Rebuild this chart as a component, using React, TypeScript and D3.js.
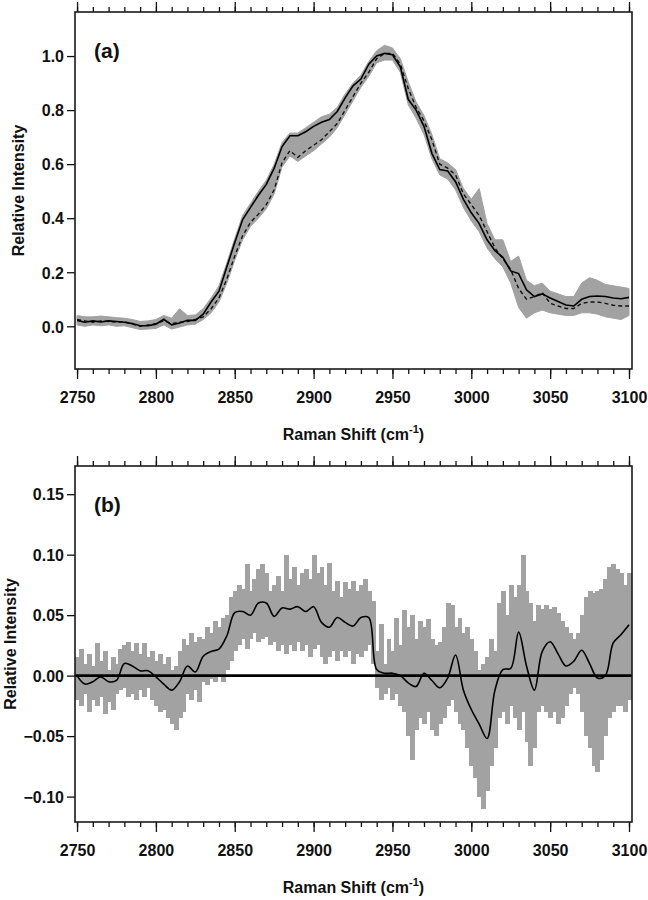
import React, { useEffect, useRef } from "react";
import * as d3 from "d3";

// Raman shift grids (cm-1)
const shiftA = d3.range(2750, 3100.01, 5);
const shiftB = d3.range(2750, 3100.01, 2.5);

// panel (a): solid trace, dashed trace, gray data envelope (lo / hi)
const solidA = [
  0.022, 0.015, 0.020, 0.016, 0.020, 0.018, 0.015, 0.010, 0.002, 0.002,
  0.008, 0.026, 0.005, 0.012, 0.022, 0.022, 0.045, 0.090, 0.130, 0.220,
  0.310, 0.395, 0.440, 0.485, 0.525, 0.585, 0.665, 0.705, 0.705, 0.720,
  0.740, 0.755, 0.765, 0.795, 0.845, 0.890, 0.915, 0.970, 1.000, 1.010,
  1.005, 0.960, 0.840, 0.800, 0.740, 0.640, 0.580, 0.575, 0.535, 0.470,
  0.420, 0.380, 0.320, 0.280, 0.255, 0.205, 0.195, 0.135, 0.110, 0.120,
  0.105, 0.092, 0.079, 0.075, 0.100, 0.110, 0.112, 0.110, 0.105, 0.102,
  0.107,
];
const dashA = [
  0.025, 0.020, 0.015, 0.020, 0.018, 0.015, 0.018, 0.008, 0.000, 0.005,
  0.010, 0.020, 0.010, 0.015, 0.018, 0.025, 0.035, 0.065, 0.105, 0.175,
  0.260, 0.335, 0.385, 0.415, 0.450, 0.505, 0.605, 0.650, 0.625, 0.650,
  0.670, 0.690, 0.720, 0.750, 0.800, 0.850, 0.900, 0.940, 0.990, 1.010,
  1.010, 0.970, 0.880, 0.810, 0.760, 0.690, 0.600, 0.585, 0.560, 0.490,
  0.450, 0.410, 0.350, 0.290, 0.250, 0.210, 0.140, 0.100, 0.110, 0.125,
  0.085, 0.075, 0.066, 0.066, 0.085, 0.090, 0.090, 0.085, 0.078, 0.075,
  0.075,
];
const hiA = [
  0.040, 0.035, 0.035, 0.038, 0.035, 0.032, 0.030, 0.025, 0.018, 0.020,
  0.025, 0.040, 0.030, 0.065, 0.040, 0.042, 0.065, 0.105, 0.150, 0.235,
  0.325, 0.410, 0.455, 0.500, 0.540, 0.600, 0.680, 0.715, 0.715, 0.735,
  0.755, 0.775, 0.785, 0.810, 0.860, 0.900, 0.930, 0.980, 1.020, 1.040,
  1.030, 0.990, 0.905, 0.830, 0.780, 0.710, 0.620, 0.605, 0.580, 0.510,
  0.470, 0.510, 0.380, 0.320, 0.320, 0.240, 0.260, 0.170, 0.150, 0.160,
  0.130, 0.120, 0.110, 0.110, 0.160, 0.180, 0.170, 0.155, 0.150, 0.145,
  0.140,
];
const loA = [
  0.005, 0.000, 0.005, 0.002, 0.005, 0.000, 0.002, -0.005, -0.012, -0.010,
  -0.008, 0.005, -0.010, -0.003, 0.005, 0.008, 0.025, 0.050, 0.090, 0.160,
  0.245, 0.320, 0.370, 0.400, 0.435, 0.490, 0.590, 0.630, 0.610, 0.630,
  0.650, 0.675, 0.700, 0.735, 0.785, 0.835, 0.885, 0.925, 0.975, 0.985,
  0.985, 0.940, 0.820, 0.770, 0.710, 0.620, 0.560, 0.545, 0.505, 0.440,
  0.390, 0.350, 0.290, 0.250, 0.220, 0.160, 0.070, 0.030, 0.050, 0.060,
  0.050, 0.045, 0.040, 0.040, 0.050, 0.050, 0.045, 0.035, 0.030, 0.025,
  0.040,
];

// panel (b): residual envelope (hi / lo) and smoothed residual
const hiB = [
  0.015, 0.022, 0.010, 0.018, 0.008, 0.027, 0.012, 0.020, 0.005, 0.015,
  0.010, 0.022, 0.025, 0.028, 0.020, 0.027, 0.018, 0.027, 0.015, 0.020,
  0.012, 0.018, 0.010, 0.015, 0.005, 0.008, 0.020, 0.030, 0.025, 0.035,
  0.028, 0.032, 0.030, 0.040, 0.035, 0.045, 0.040, 0.048, 0.050, 0.065,
  0.070, 0.075, 0.072, 0.092, 0.070, 0.080, 0.088, 0.092, 0.085, 0.070,
  0.075, 0.082, 0.070, 0.100, 0.080, 0.090, 0.075, 0.085, 0.088, 0.080,
  0.100, 0.085, 0.090, 0.075, 0.093, 0.070, 0.078, 0.065, 0.077, 0.072,
  0.078, 0.070, 0.075, 0.080, 0.070, 0.062, 0.020, 0.043, 0.010, 0.030,
  0.020, 0.048, 0.025, 0.054, 0.040, 0.050, 0.030, 0.045, 0.040, 0.047,
  0.030, 0.025, 0.028, 0.040, 0.060, 0.058, 0.040, 0.048, 0.035, 0.040,
  0.030, 0.020, 0.005, 0.010, 0.015, 0.030, 0.020, 0.060, 0.070, 0.050,
  0.075, 0.065, 0.075, 0.100, 0.070, 0.060, 0.045, 0.058, 0.055, 0.058,
  0.055, 0.057, 0.052, 0.045, 0.040, 0.035, 0.030, 0.035, 0.050, 0.065,
  0.070, 0.068, 0.070, 0.072, 0.080, 0.090, 0.092, 0.088, 0.085, 0.075,
  0.085,
];
const loB = [
  -0.020, -0.025, -0.015, -0.030, -0.020, -0.025, -0.018, -0.032, -0.022, -0.028,
  -0.015, -0.012, -0.010, -0.018, -0.015, -0.020, -0.012, -0.018, -0.010, -0.020,
  -0.025, -0.030, -0.028, -0.035, -0.040, -0.045, -0.035, -0.030, -0.015, -0.020,
  -0.012, -0.022, -0.005, -0.008, -0.003, -0.005, 0.000, -0.005, 0.005, 0.012,
  0.020, 0.025, 0.030, 0.022, 0.030, 0.035, 0.028, 0.030, 0.032, 0.025,
  0.028, 0.020, 0.025, 0.018, 0.025, 0.020, 0.028, 0.020, 0.025, 0.015,
  0.022, 0.025, 0.015, 0.010, 0.015, 0.020, 0.012, 0.020, 0.015, 0.020,
  0.010, 0.018, 0.015, 0.020, 0.025, 0.010, -0.010, -0.020, -0.015, -0.010,
  -0.020, -0.015, -0.025, -0.030, -0.050, -0.070, -0.045, -0.035, -0.040, -0.030,
  -0.045, -0.050, -0.040, -0.035, -0.025, -0.020, -0.030, -0.040, -0.045, -0.060,
  -0.075, -0.085, -0.100, -0.110, -0.095, -0.075, -0.060, -0.035, -0.030, -0.040,
  -0.025, -0.035, -0.045, -0.030, -0.055, -0.075, -0.060, -0.030, -0.025, -0.030,
  -0.035, -0.030, -0.040, -0.035, -0.025, -0.015, -0.010, -0.015, -0.030, -0.050,
  -0.060, -0.075, -0.080, -0.070, -0.050, -0.035, -0.030, -0.025, -0.025, -0.030,
  -0.020,
];
const lineB = [
  0.000, -0.007, -0.005, -0.001, -0.005, -0.004, 0.010, 0.008, 0.004, 0.004,
  -0.001, -0.007, -0.012, -0.005, 0.008, 0.003, 0.016, 0.020, 0.022, 0.033,
  0.052, 0.053, 0.050, 0.060, 0.060, 0.049, 0.056, 0.055, 0.057, 0.053,
  0.057, 0.044, 0.040, 0.048, 0.044, 0.041, 0.048, 0.048, 0.005, 0.002,
  0.002, 0.000, -0.006, -0.009, 0.002, -0.004, -0.010, -0.002, 0.017, -0.012,
  -0.028, -0.040, -0.052, -0.012, 0.005, 0.006, 0.036, 0.008, -0.012, 0.020,
  0.028, 0.018, 0.008, 0.012, 0.021, 0.010, -0.002, 0.000, 0.027, 0.034,
  0.042,
];

const xMajor = [2750, 2800, 2850, 2900, 2950, 3000, 3050, 3100];
const xMinor = d3.range(2750, 3100.01, 10);
const yTicksA = [0, 0.2, 0.4, 0.6, 0.8, 1.0];
const yTicksB = [-0.1, -0.05, 0, 0.05, 0.1, 0.15];

const W = 648;
const H = 900;
const FONT = "'Liberation Sans', Arial, Helvetica, sans-serif";
const GRAY = "#a2a2a2";

const App = () => {
  const ref = useRef<SVGSVGElement>(null);

  useEffect(() => {
    const svg = d3.select(ref.current);
    svg.selectAll("*").remove();

    const left = 75,
      right = 632;
    const x = d3.scaleLinear().domain([2748.7, 3101.9]).range([left, right]);

    const drawPanel = (
      top: number,
      bottom: number,
      yDomain: [number, number],
      yTicks: number[],
      fmt: (d: number) => string,
      tag: string,
      titleX: number,
      id: string
    ) => {
      const y = d3.scaleLinear().domain(yDomain).range([bottom, top]);
      const g = svg.append("g");

      g.append("clipPath")
        .attr("id", id)
        .append("rect")
        .attr("x", left)
        .attr("y", top)
        .attr("width", right - left)
        .attr("height", bottom - top);

      const plot = g.append("g").attr("clip-path", `url(#${id})`);

      // axes: top (no labels), bottom (labels), left (labels)
      const axTop = g.append("g").attr("transform", `translate(0,${top})`);
      axTop.append("g").call(d3.axisTop(x).tickValues(xMinor).tickSize(5).tickFormat(() => ""));
      axTop.append("g").call(d3.axisTop(x).tickValues(xMajor).tickSize(10).tickFormat(() => ""));

      const axBot = g.append("g").attr("transform", `translate(0,${bottom})`);
      axBot.append("g").call(d3.axisBottom(x).tickValues(xMinor).tickSize(5).tickFormat(() => ""));
      axBot
        .append("g")
        .call(d3.axisBottom(x).tickValues(xMajor).tickSize(10).tickFormat(d3.format("d")))
        .selectAll("text")
        .attr("y", 34)
        .attr("dy", 0);

      const axLeft = g.append("g").attr("transform", `translate(${left},0)`);
      axLeft
        .call(d3.axisLeft(y).tickValues(yTicks).tickSize(8).tickFormat((d) => fmt(d as number)))
        .selectAll("text")
        .attr("x", -11)
        .attr("dy", "0.36em");

      g.selectAll(".domain").remove();
      g.selectAll(".tick line").attr("stroke", "#111").attr("stroke-width", 1.3);
      g.selectAll(".tick text")
        .attr("fill", "#111")
        .style("font-family", FONT)
        .style("font-weight", "bold")
        .style("font-size", "16px");

      // frame
      g.append("rect")
        .attr("x", left)
        .attr("y", top)
        .attr("width", right - left)
        .attr("height", bottom - top)
        .attr("fill", "none")
        .attr("stroke", "#1a1a1a")
        .attr("stroke-width", 1.6);

      // x title
      const xt = g
        .append("text")
        .attr("x", (left + right) / 2)
        .attr("y", bottom + 71)
        .attr("text-anchor", "middle")
        .style("font-family", FONT)
        .style("font-weight", "bold")
        .style("font-size", "16px")
        .attr("fill", "#111");
      xt.append("tspan").text("Raman Shift (cm");
      xt.append("tspan").attr("dy", -7).style("font-size", "11px").text("-1");
      xt.append("tspan").attr("dy", 7).text(")");

      // y title
      g.append("text")
        .attr("transform", `translate(${titleX},${(top + bottom) / 2}) rotate(-90)`)
        .attr("text-anchor", "middle")
        .style("font-family", FONT)
        .style("font-weight", "bold")
        .style("font-size", "16px")
        .attr("fill", "#111")
        .text("Relative Intensity");

      // panel tag
      g.append("text")
        .attr("x", 94)
        .attr("y", top + 46)
        .style("font-family", FONT)
        .style("font-weight", "bold")
        .style("font-size", "21px")
        .attr("fill", "#111")
        .text(tag);

      return { y, plot, g };
    };

    // ---- panel (a)
    const pa = drawPanel(12, 369, [-0.158, 1.163], yTicksA, d3.format(".1f"), "(a)", 24, "clipA");
    const areaA = d3
      .area<number>()
      .x((_, i) => x(shiftA[i]))
      .y0((_, i) => pa.y(loA[i]))
      .y1((_, i) => pa.y(hiA[i]));
    pa.plot.append("path").datum(hiA).attr("d", areaA).attr("fill", GRAY).attr("stroke", GRAY).attr("stroke-width", 1);

    const lineGen = (yS: d3.ScaleLinear<number, number>, xs: number[]) =>
      d3
        .line<number>()
        .x((_, i) => x(xs[i]))
        .y((d) => yS(d));

    pa.plot
      .append("path")
      .datum(dashA)
      .attr("d", lineGen(pa.y, shiftA))
      .attr("fill", "none")
      .attr("stroke", "#111")
      .attr("stroke-width", 1.4)
      .attr("stroke-dasharray", "4,3");
    pa.plot
      .append("path")
      .datum(solidA)
      .attr("d", lineGen(pa.y, shiftA))
      .attr("fill", "none")
      .attr("stroke", "#000")
      .attr("stroke-width", 1.6);

    // ---- panel (b)
    const pb = drawPanel(466, 822, [-0.121, 0.1733], yTicksB, d3.format(".2f"), "(b)", 16, "clipB");
    const bw = x(2752.5) - x(2750);
    pb.plot
      .append("g")
      .attr("shape-rendering", "crispEdges")
      .selectAll("rect.bar")
      .data(shiftB)
      .enter()
      .append("rect")
      .attr("class", "bar")
      .attr("x", (d) => x(d) - bw / 2)
      .attr("width", bw + 1)
      .attr("y", (_, i) => pb.y(hiB[i]))
      .attr("height", (_, i) => pb.y(loB[i]) - pb.y(hiB[i]))
      .attr("fill", GRAY);

    pb.plot
      .append("line")
      .attr("x1", left)
      .attr("x2", right)
      .attr("y1", pb.y(0))
      .attr("y2", pb.y(0))
      .attr("stroke", "#000")
      .attr("stroke-width", 2.6);

    pb.plot
      .append("path")
      .datum(lineB)
      .attr("d", lineGen(pb.y, shiftA).curve(d3.curveCatmullRom))
      .attr("fill", "none")
      .attr("stroke", "#000")
      .attr("stroke-width", 1.6);
  }, []);

  return (
    <svg
      ref={ref}
      width={W}
      height={H}
      style={{ position: "absolute", left: 0, top: 0, background: "#fff" }}
    ></svg>
  );
};

export default App;
